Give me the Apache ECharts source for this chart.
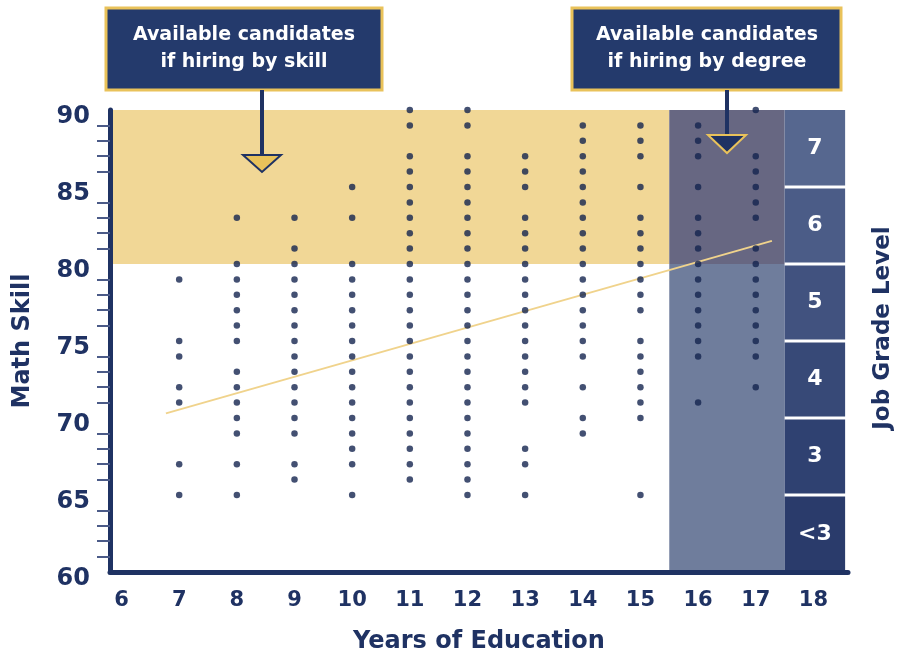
<!DOCTYPE html>
<html>
<head>
<meta charset="utf-8">
<script src="https://cdn.jsdelivr.net/npm/echarts@6/dist/echarts.min.js"></script>
<style>
html,body{margin:0;padding:0;background:#fff;}
#chart{width:897px;height:653px;}
</style>
</head>
<body>
<div id="chart"></div>
<script>
// ---- data ----
const years = [7, 8, 9, 10, 11, 12, 13, 14, 15, 16, 17];
const edu7  = [79, 75, 74, 72, 71, 67, 65];
const edu8  = [83, 80, 79, 78, 77, 76, 75, 73, 72, 71, 70, 69, 67, 65];
const edu9  = [83, 81, 80, 79, 78, 77, 76, 75, 74, 73, 72, 71, 70, 69, 67, 66];
const edu10 = [85, 83, 80, 79, 78, 77, 76, 75, 74, 73, 72, 71, 70, 69, 68, 67, 65];
const edu11 = [90, 89, 87, 86, 85, 84, 83, 82, 81, 80, 79, 78, 77, 76, 75, 74, 73, 72, 71, 70, 69, 68, 67, 66];
const edu12 = [90, 89, 87, 86, 85, 84, 83, 82, 81, 80, 79, 78, 77, 76, 75, 74, 73, 72, 71, 70, 69, 68, 67, 66, 65];
const edu13 = [87, 86, 85, 83, 82, 81, 80, 79, 78, 77, 76, 75, 74, 73, 72, 71, 68, 67, 65];
const edu14 = [89, 88, 87, 86, 85, 84, 83, 82, 81, 80, 79, 78, 77, 76, 75, 74, 72, 70, 69];
const edu15 = [89, 88, 87, 85, 83, 82, 81, 80, 79, 78, 77, 75, 74, 73, 72, 71, 70, 65];
const edu16 = [89, 88, 87, 85, 83, 82, 81, 80, 79, 78, 77, 76, 75, 74, 71];
const edu17 = [90, 87, 86, 85, 84, 83, 81, 80, 79, 78, 77, 76, 75, 74, 72];
const columns = [edu7, edu8, edu9, edu10, edu11, edu12, edu13, edu14, edu15, edu16, edu17];

const trendX = [6.77, 17.28];
const trendY = [70.3, 81.5];

const xTickLabels = [6, 7, 8, 9, 10, 11, 12, 13, 14, 15, 16, 17, 18];
const skillBand = [80, 90];       // Math Skill range hired by skill
const degreeBand = [15.5, 17.5];  // Years of Education range hired by degree
const gradeLabels = ['<3', '3', '4', '5', '6', '7'];
const gradeBounds = [60, 65, 70, 75, 80, 85, 90];
const gradeX = [17.5, 18.55];

// ---- styles ----
const NAVY = '#1f3263';
const YELLOW = '#f1d796';
const GOLD = '#e9c25a';
const FONT = '"DejaVu Sans", sans-serif';
const gradeColors = ['#2a3b6b', '#2f4171', '#374977', '#41527f', '#4b5c87', '#56678f'];

const points = [];
columns.forEach((col, i) => col.forEach(v => points.push([years[i], v])));

const gradeAreas = gradeLabels.map((lab, i) => {
  const gap = 0.09;
  const lo = gradeBounds[i] + (i === 0 ? 0 : gap);
  const hi = gradeBounds[i + 1] - (i === gradeLabels.length - 1 ? 0 : gap);
  return [
    { coord: [gradeX[0], lo], itemStyle: { color: gradeColors[i] },
      label: { show: true, position: 'inside', formatter: lab, color: '#fff',
               fontFamily: FONT, fontWeight: 'bold', fontSize: 22 } },
    { coord: [gradeX[1], hi] }
  ];
});

const chart = echarts.init(document.getElementById('chart'), null, { renderer: 'canvas' });
chart.setOption({
  animation: false,
  backgroundColor: '#fff',
  grid: { left: 110, right: 49, top: 110, bottom: 81, containLabel: false, outerBoundsMode: 'none' },
  xAxis: {
    type: 'value', min: 5.8, max: 18.6, z: 10,
    axisLine: { show: true, onZero: false, lineStyle: { color: NAVY, width: 5 } },
    axisTick: { show: false },
    splitLine: { show: false },
    axisLabel: { customValues: xTickLabels, color: NAVY, fontFamily: FONT, fontWeight: 'bold', fontSize: 21, margin: 18 },
    name: 'Years of Education', nameLocation: 'middle', nameGap: 58,
    nameTextStyle: { color: NAVY, fontFamily: FONT, fontWeight: 'bold', fontSize: 24 }
  },
  yAxis: {
    type: 'value', min: 60, max: 90, interval: 5, z: 10,
    axisLine: { show: true, onZero: false, lineStyle: { color: NAVY, width: 5 } },
    axisTick: { show: false },
    minorTick: { show: true, splitNumber: 5, length: 13, lineStyle: { color: '#4b5b88', width: 2 } },
    splitLine: { show: false },
    axisLabel: { color: NAVY, fontFamily: FONT, fontWeight: 'bold', fontSize: 24, margin: 20,
                 verticalAlign: 'top', lineHeight: 14 },
    name: 'Math Skill', nameLocation: 'middle', nameGap: 75, nameRotate: 90,
    nameTextStyle: { color: NAVY, fontFamily: FONT, fontWeight: 'bold', fontSize: 24 }
  },
  series: [
    {
      type: 'scatter', data: [], z: 1, silent: true,
      markArea: {
        silent: true,
        data: [
          [{ coord: [5.8, skillBand[0]], itemStyle: { color: YELLOW } }, { coord: [degreeBand[0], skillBand[1]] }],
          [{ coord: [degreeBand[0], skillBand[0]], itemStyle: { color: '#676782' } }, { coord: [degreeBand[1], skillBand[1]] }],
          [{ coord: [degreeBand[0], 60], itemStyle: { color: '#6f7d9c' } }, { coord: [degreeBand[1], skillBand[0]] }]
        ].concat(gradeAreas)
      }
    },
    {
      type: 'line', z: 3, silent: true, symbol: 'none',
      data: trendX.map((x, i) => [x, trendY[i]]),
      lineStyle: { color: '#f0d38c', width: 2 }
    },
    {
      type: 'scatter', z: 4, silent: true,
      data: points, symbolSize: 6.5,
      itemStyle: { color: '#14244f' }
    }
  ],
  graphic: [
    { type: 'rect', shape: { x: 106, y: 8, width: 276, height: 82 },
      style: { fill: '#243a6c', stroke: GOLD, lineWidth: 3 }, z: 20 },
    { type: 'text', x: 244, y: 49, z: 21,
      style: { text: 'Available candidates\nif hiring by skill', fill: '#fff', font: 'bold 19px ' + FONT,
               align: 'center', verticalAlign: 'middle', lineHeight: 27 } },
    { type: 'line', shape: { x1: 262, y1: 90, x2: 262, y2: 158 }, style: { stroke: NAVY, lineWidth: 4 }, z: 20 },
    { type: 'polygon', shape: { points: [[243, 155], [281, 155], [262, 172]] },
      style: { fill: GOLD, stroke: NAVY, lineWidth: 2 }, z: 21 },

    { type: 'rect', shape: { x: 572, y: 8, width: 269, height: 82 },
      style: { fill: '#243a6c', stroke: GOLD, lineWidth: 3 }, z: 20 },
    { type: 'text', x: 707, y: 49, z: 21,
      style: { text: 'Available candidates\nif hiring by degree', fill: '#fff', font: 'bold 19px ' + FONT,
               align: 'center', verticalAlign: 'middle', lineHeight: 27 } },
    { type: 'line', shape: { x1: 727, y1: 90, x2: 727, y2: 138 }, style: { stroke: NAVY, lineWidth: 4 }, z: 20 },
    { type: 'polygon', shape: { points: [[708, 135], [746, 135], [727, 153]] },
      style: { fill: NAVY, stroke: GOLD, lineWidth: 2 }, z: 21 },

    { type: 'text', x: 883, y: 328, rotation: Math.PI / 2, z: 21,
      style: { text: 'Job Grade Level', fill: NAVY, font: 'bold 23px ' + FONT, align: 'center', verticalAlign: 'middle' } }
  ]
});
</script>
</body>
</html>
